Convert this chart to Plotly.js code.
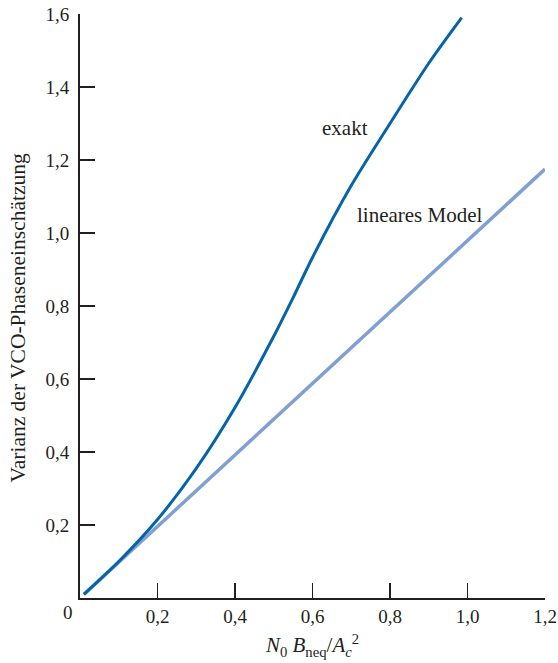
<!DOCTYPE html>
<html>
<head>
<meta charset="utf-8">
<script src="https://cdn.plot.ly/plotly-3.0.1.min.js"></script>
<style>html,body{margin:0;padding:0;background:#fff;}#chart{width:558px;height:663px;}</style>
</head>
<body>
<div id="chart"></div>
<script>
// Data
const exaktX = [0.01, 0.1, 0.2, 0.3, 0.4, 0.5, 0.55, 0.6, 0.7, 0.8, 0.9, 0.985];
const exaktY = [0.01, 0.1, 0.215, 0.355, 0.522, 0.717, 0.823, 0.933, 1.13, 1.30, 1.465, 1.59];
const linearX = [0.01, 1.2];
const linearY = [0.01, 1.175];
const xTickVals = [0.2, 0.4, 0.6, 0.8, 1.0, 1.2];
const xTickText = ["0,2", "0,4", "0,6", "0,8", "1,0", "1,2"];
const yTickVals = [0.2, 0.4, 0.6, 0.8, 1.0, 1.2, 1.4, 1.6];
const yTickText = ["0,2", "0,4", "0,6", "0,8", "1,0", "1,2", "1,4", "1,6"];

const fam = "Liberation Serif, Times New Roman, serif";
const ink = "#231f20";

const traces = [
  {x: linearX, y: linearY, mode: "lines", line: {color: "#80a0d2", width: 3.5}, hoverinfo: "skip"},
  {x: exaktX, y: exaktY, mode: "lines", line: {color: "#0564a9", width: 3, shape: "spline", smoothing: 0.8}, hoverinfo: "skip"}
];

const axisCommon = {
  showgrid: false, zeroline: false, showline: true, linecolor: ink, linewidth: 2,
  ticks: "inside", ticklen: 15, tickwidth: 1.5, tickcolor: ink,
  tickfont: {family: fam, color: ink, size: 19}, fixedrange: true
};

const layout = {
  width: 558, height: 663,
  margin: {l: 80, r: 13, t: 14, b: 65},
  paper_bgcolor: "#fff", plot_bgcolor: "#fff",
  showlegend: false,
  xaxis: Object.assign({}, axisCommon, {
    range: [0, 1.2], tickvals: xTickVals, ticktext: xTickText,
    title: {text: "<i>N</i><sub>0</sub> <i>B</i><sub>neq</sub>/<i>A<sub>c</sub></i><sup>2</sup>", font: {family: fam, color: ink, size: 21}, standoff: 12}
  }),
  yaxis: Object.assign({}, axisCommon, {
    range: [0, 1.6], tickvals: yTickVals, ticktext: yTickText, ticklabelstandoff: 5
  }),
  annotations: [
    {x: -0.133, y: 0.479, xref: "paper", yref: "paper", text: "Varianz der VCO-Phaseneinschätzung", textangle: -90, showarrow: false, xanchor: "center", yanchor: "middle", font: {family: fam, color: ink, size: 21.5}},
    {x: 0.619, y: 1.288, xref: "x", yref: "y", text: "exakt", showarrow: false, xanchor: "left", yanchor: "middle", font: {family: fam, color: ink, size: 21}},
    {x: 0.71, y: 1.049, xref: "x", yref: "y", text: "lineares Model", showarrow: false, xanchor: "left", yanchor: "middle", font: {family: fam, color: ink, size: 21}},
    {x: -0.026, y: -0.025, xref: "paper", yref: "paper", text: "0", showarrow: false, xanchor: "center", yanchor: "middle", font: {family: fam, color: ink, size: 19}}
  ]
};

Plotly.newPlot("chart", traces, layout, {displayModeBar: false, staticPlot: true});
</script>
</body>
</html>
